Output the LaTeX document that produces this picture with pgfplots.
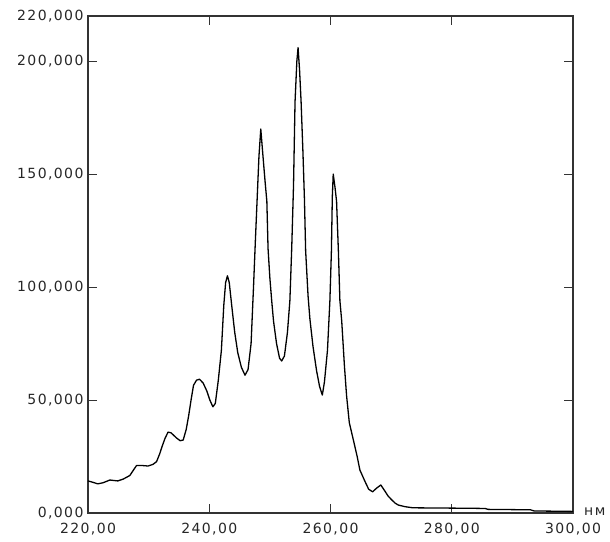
\documentclass[border=0pt]{standalone}
\usepackage{fontspec}
\setmainfont[LetterSpace=10]{DejaVu Sans}
\usepackage{pgfplots}
\pgfplotsset{compat=1.18}
\begin{document}
\begin{tikzpicture}[x=1pt,y=1pt]
\path[use as bounding box] (0,0) rectangle (610,541);
\begin{axis}[
  at={(88pt,28pt)}, anchor=south west,
  scale only axis, width=485pt, height=497pt,
  xmin=220, xmax=300, ymin=0, ymax=220,
  clip=false,
  xtick={220,240,260,280,300},
  xticklabels={{220,00},{240,00},{260,00},{280,00},{300,00}},
  ytick={0,50,100,150,200,220},
  yticklabels={{0,000},{50,000},{100,000},{150,000},{200,000},{220,000}},
  tick align=inside,
  major tick length=9pt,
  tick style={color=black!80, line width=1pt},
  axis line style={black!80, line width=1.3pt},
  ticklabel style={font=\fontsize{14}{15}\selectfont, text=black!85},
  xticklabel style={yshift=-6.5pt},
  yticklabel style={xshift=-1pt},
]
\addplot[black, line width=1.3pt, line join=round] coordinates {
(220.0,14.2) (220.8,13.6) (221.6,12.9) (222.5,13.4) (223.6,14.6) (224.9,14.2)
(225.8,15.0) (226.9,16.6) (227.5,19.0) (228.0,21.0) (229.0,21.0) (229.9,20.8)
(230.7,21.5) (231.3,22.7) (231.8,26.0) (232.2,29.3) (232.7,33.0) (233.2,35.8)
(233.7,35.5) (234.6,33.2) (235.2,32.0) (235.7,32.3) (236.2,37.0) (236.6,43.0)
(237.0,50.0) (237.4,56.5) (237.9,58.8) (238.4,59.2) (239.0,57.5) (239.6,54.0)
(240.1,50.0) (240.6,47.0) (241.0,48.5) (241.5,58.9) (242.0,72.0) (242.4,92.0)
(242.7,102.0) (243.0,105.0) (243.3,102.0) (243.7,92.0) (244.2,80.0) (244.7,71.0)
(245.3,64.5) (245.9,61.0) (246.4,63.5) (246.9,75.0) (247.3,100.0) (247.6,120.0)
(247.9,139.0) (248.2,158.0) (248.5,170.0) (248.8,160.0) (249.2,147.0) (249.5,138.0)
(249.7,117.0) (250.0,104.0) (250.3,94.0) (250.6,85.0) (251.1,75.0) (251.6,68.5)
(251.95,67.3) (252.4,69.5) (252.9,80.0) (253.3,94.0) (253.6,117.0) (253.9,145.0)
(254.15,182.0) (254.45,200.0) (254.65,206.0) (254.9,196.0) (255.15,182.0) (255.45,160.0)
(255.7,139.0) (255.9,116.0) (256.3,96.0) (256.6,86.0) (257.1,74.0) (257.7,63.0)
(258.2,56.0) (258.65,52.2) (259.0,58.0) (259.5,72.0) (259.9,94.0) (260.15,116.0)
(260.3,140.0) (260.45,150.0) (260.75,144.0) (261.0,138.0) (261.3,116.0) (261.55,94.0)
(261.85,85.0) (262.3,65.0) (262.65,52.0) (263.1,40.0) (263.8,32.0) (264.4,25.0)
(264.85,19.0) (265.7,13.9) (266.3,10.5) (266.95,9.4) (267.6,11.0) (268.3,12.4)
(268.9,10.0) (269.5,7.5) (270.1,5.8) (270.7,4.3) (271.2,3.5) (272.3,2.8) (273.6,2.3)
(278.0,2.2) (283.0,2.1) (285.5,2.0) (286.0,1.6) (290.0,1.5) (293.0,1.4)
(293.6,0.9) (297.0,0.8) (300.0,0.7)
};
\node[anchor=base west, inner sep=0pt, font=\fontsize{14}{15}\selectfont, text=black!85]
  at (rel axis cs:1,0) [xshift=11pt, yshift=-2pt] {нм};
\end{axis}
\end{tikzpicture}
\end{document}
